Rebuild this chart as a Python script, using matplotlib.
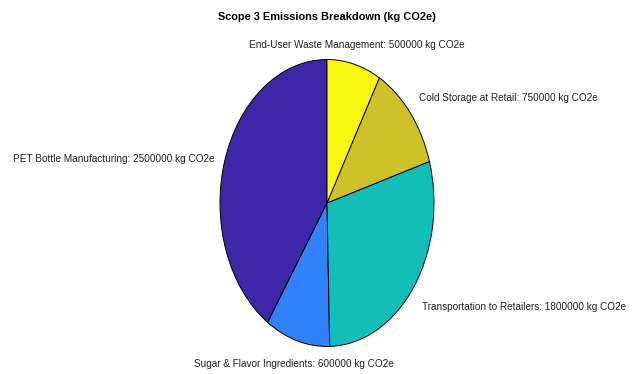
import matplotlib
matplotlib.use("Agg")
import matplotlib.pyplot as plt
from matplotlib.transforms import ScaledTranslation

# slices in drawing order (counter-clockwise from 12 o'clock)
sources = ["PET Bottle Manufacturing", "Sugar & Flavor Ingredients",
           "Transportation to Retailers", "Cold Storage at Retail",
           "End-User Waste Management"]
emissions = [2500000, 600000, 1800000, 750000, 500000]
colors = ["#3e26a8", "#3181f9", "#14beb8", "#cdc22a", "#f8f812"]

# label alignment for each slice, plus a small vertical nudge (points)
h_align = ["right", "center", "left", "left", "center"]
v_align = ["center", "top", "top", "bottom", "bottom"]
nudge = [-1.5, -3, -4.5, 0.5, 0.5]

plt.rcParams["font.family"] = ["Liberation Sans", "DejaVu Sans"]

fig = plt.figure(figsize=(6.38, 3.74), dpi=100)
# pie drawn as an ellipse: 214 px wide, 287 px high
ax = fig.add_axes([(327 - 107) / 638, (374 - 346.5) / 374, 214 / 638, 287 / 374])

labels = [f"{s}: {v} kg CO2e" for s, v in zip(sources, emissions)]
wedges, texts = ax.pie(emissions, colors=colors, labels=labels, startangle=90,
                       counterclock=True, labeldistance=1.1,
                       wedgeprops=dict(edgecolor="black", linewidth=0.7),
                       textprops=dict(fontsize=7.2, color="#222222"))
for t, ha, va, dy in zip(texts, h_align, v_align, nudge):
    t.set_ha(ha)
    t.set_va(va)
    t.set_transform(t.get_transform() + ScaledTranslation(0, dy / 72, fig.dpi_scale_trans))

ax.set_aspect("auto")
ax.set_xlim(-1, 1)
ax.set_ylim(-1, 1)
ax.axis("off")

fig.text(327 / 638, 1 - 17 / 374, "Scope 3 Emissions Breakdown (kg CO2e)",
         ha="center", va="center", fontsize=7.9, fontweight="bold", color="black")

fig.savefig("out.png", dpi=100)
